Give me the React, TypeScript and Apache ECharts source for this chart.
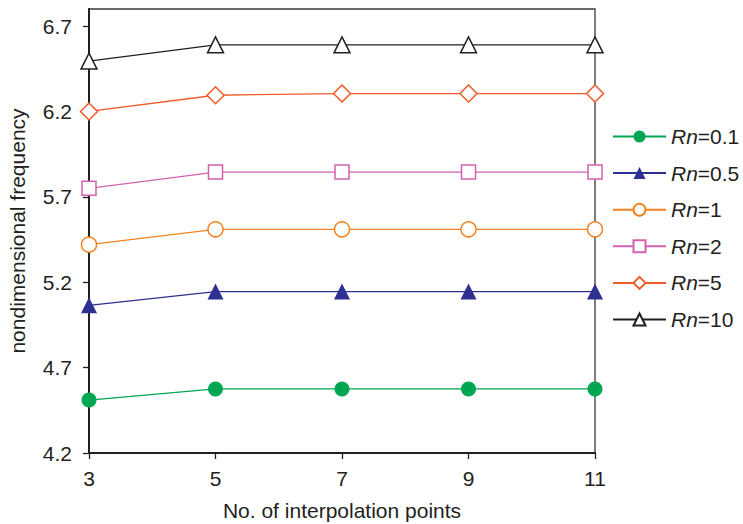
import React, { useEffect, useRef } from "react";
import * as echarts from "echarts";

const categories = ["3", "5", "7", "9", "11"];
const rn01 = [4.51, 4.575, 4.575, 4.575, 4.575];
const rn05 = [5.065, 5.145, 5.145, 5.145, 5.145];
const rn1 = [5.42, 5.51, 5.51, 5.51, 5.51];
const rn2 = [5.75, 5.845, 5.845, 5.845, 5.845];
const rn5 = [6.2, 6.295, 6.305, 6.305, 6.305];
const rn10 = [6.495, 6.59, 6.59, 6.59, 6.59];
const yTicks = [4.2, 4.7, 5.2, 5.7, 6.2, 6.7];
const seriesNames = ["0.1", "0.5", "1", "2", "5", "10"];

const TXT = "#231f20";
const FONT = "Liberation Sans, Arial, sans-serif";
const FS = 21;

export default function App() {
  const ref = useRef<HTMLDivElement>(null);
  useEffect(() => {
    if (!ref.current) return;
    const chart = echarts.init(ref.current, undefined, { renderer: "svg" });
    const mk = (
      name: string,
      data: number[],
      color: string,
      symbol: string,
      size: number,
      filled: boolean
    ) => ({
      name,
      type: "line",
      data,
      symbol,
      symbolSize: size,
      showAllSymbol: true,
      lineStyle: { color, width: 1.3 },
      itemStyle: {
        color: filled ? color : "#ffffff",
        borderColor: color,
        borderWidth: filled ? 0 : 1.5,
      },
      emphasis: { disabled: true },
    });
    chart.setOption({
      animation: false,
      textStyle: { fontFamily: FONT },
      grid: {
        left: 89,
        right: 148,
        top: 9,
        bottom: 71,
        containLabel: false,
        outerBoundsMode: "none",
        show: true,
        borderColor: "#3a3a3a",
        borderWidth: 1.3,
        backgroundColor: "transparent",
      },
      xAxis: {
        type: "category",
        data: categories,
        boundaryGap: false,
        name: "No. of interpolation points",
        nameLocation: "middle",
        nameGap: 47,
        nameTextStyle: { fontSize: FS, color: TXT, fontFamily: FONT },
        axisLine: { lineStyle: { color: TXT, width: 2 } },
        axisTick: { show: true, inside: false, length: 6, lineStyle: { color: TXT, width: 1.3 } },
        axisLabel: { fontSize: FS, color: TXT, margin: 15, fontFamily: FONT },
        splitLine: { show: false },
      },
      yAxis: {
        type: "value",
        min: 4.2,
        max: 6.8,
        name: "nondimensional frequency",
        nameLocation: "middle",
        nameGap: 61,
        nameTextStyle: { fontSize: FS, color: TXT, fontFamily: FONT },
        axisLine: { show: true, lineStyle: { color: TXT, width: 2 } },
        axisTick: {
          show: true,
          length: 6,
          customValues: yTicks,
          lineStyle: { color: TXT, width: 1.3 },
        },
        axisLabel: {
          fontSize: FS,
          color: TXT,
          margin: 17,
          customValues: yTicks,
          fontFamily: FONT,
          formatter: (v: number) => v.toFixed(1),
        },
        splitLine: { show: false },
      },
      legend: {
        orient: "vertical",
        left: 612,
        top: 126,
        padding: 0,
        itemWidth: 53,
        itemHeight: 15,
        itemGap: 15.6,
        textStyle: {
          fontSize: FS,
          color: TXT,
          fontFamily: FONT,
          rich: {
            i: { fontStyle: "italic", fontSize: FS, color: TXT, fontFamily: FONT },
            n: { fontSize: FS, color: TXT, fontFamily: FONT },
          },
        },
        formatter: (name: string) => `{i|Rn}{n|=${name}}`,
        data: seriesNames,
      },
      series: [
        mk(seriesNames[0], rn01, "#00a651", "circle", 15, true),
        mk(seriesNames[1], rn05, "#2e3192", "triangle", 16, true),
        mk(seriesNames[2], rn1, "#f58220", "circle", 15, false),
        mk(seriesNames[3], rn2, "#d462b0", "rect", 14, false),
        mk(seriesNames[4], rn5, "#f15a29", "diamond", 17, false),
        mk(seriesNames[5], rn10, "#231f20", "triangle", 16, false),
      ],
    });
    return () => chart.dispose();
  }, []);
  return <div ref={ref} style={{ width: 743, height: 524, position: "absolute", left: 0, top: 0 }} />;
}
